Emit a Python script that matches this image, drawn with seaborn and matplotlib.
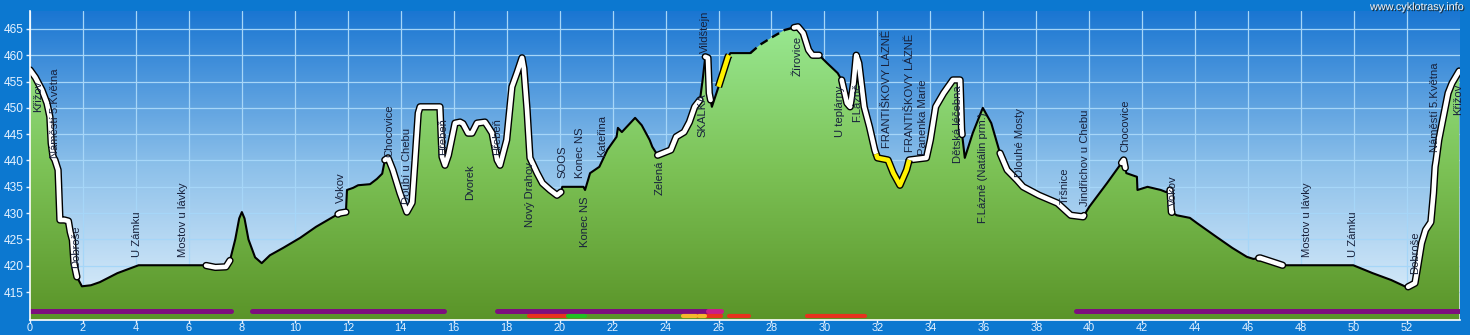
import numpy as np
import pandas as pd
import matplotlib
matplotlib.use("Agg")
import matplotlib.pyplot as plt
import seaborn as sns
from matplotlib.colors import LinearSegmentedColormap
from matplotlib.patches import PathPatch
import matplotlib.patheffects as pe

# ---------------- data ----------------
km = [0.0, 0.2, 0.45, 0.64, 0.75, 0.8, 0.87, 0.94, 1.06, 1.13, 1.3, 1.45, 1.52, 1.6, 1.66, 1.77, 1.96,
      2.3, 2.64, 3.3, 4.1, 6.6, 7.0, 7.4, 7.55, 7.75, 7.9, 8.0, 8.1, 8.25, 8.5, 8.75, 9.06, 9.56, 10.2,
      10.8, 11.45, 11.7, 11.93, 11.97, 12.2, 12.39, 12.84, 13.1, 13.3, 13.4, 13.52, 13.7, 13.97, 14.23,
      14.43, 14.54, 14.66, 14.73, 15.48, 15.56, 15.67, 15.8, 16.05, 16.24, 16.35, 16.54, 16.69, 16.88,
      17.18, 17.3, 17.45, 17.64, 17.75, 18.0, 18.2, 18.4, 18.58, 18.65, 18.77, 18.88, 19.15, 19.35,
      19.64, 19.9, 20.05, 20.1, 20.9, 20.96, 21.15, 21.5, 21.8, 22.15, 22.2, 22.35, 22.85, 23.1, 23.4,
      23.5, 23.7, 24.2, 24.4, 24.7, 24.9, 25.1, 25.3, 25.4, 25.5, 25.6, 25.65, 25.75, 26.0, 26.36,
      26.45, 27.2, 27.57, 28.05, 28.5, 28.8, 29.0, 29.2, 29.4, 29.55, 29.8, 30.1, 30.5, 30.65, 30.85,
      30.97, 31.1, 31.2, 31.3, 31.5, 31.7, 31.9, 32.0, 32.4, 32.6, 32.85, 33.1, 33.2, 33.85, 34.0,
      34.2, 34.5, 34.85, 35.12, 35.18, 35.3, 35.6, 35.98, 36.3, 36.45, 36.63, 36.9, 37.27, 37.5, 38.1,
      38.8, 39.3, 39.77, 40.0, 40.67, 41.3, 41.4, 41.8, 41.82, 42.2, 42.7, 42.9, 43.05, 43.1, 43.3,
      43.8, 44.07, 44.8, 45.4, 45.95, 46.2, 46.45, 47.3, 49.97, 50.7, 51.4, 52.0, 52.3, 52.4, 52.55,
      52.7, 52.9, 53.0, 53.06, 53.1, 53.2, 53.4, 53.55, 53.7, 53.97]
elev = [457.2, 455.8, 453.4, 450.9, 448.3, 443.3, 440.7, 440.1, 438.2, 428.7, 428.7, 428.5, 426.4,
        424.9, 420.5, 417.9, 416.1, 416.3, 416.9, 418.6, 420.1, 420.1, 419.7, 419.8, 421.0, 425.0,
        429.0, 430.2, 429.0, 425.0, 421.6, 420.5, 422.0, 423.4, 425.3, 427.4, 429.3, 430.0, 430.2,
        434.4, 434.8, 435.3, 435.5, 436.5, 437.5, 440.1, 440.5, 438.2, 433.8, 430.2, 432.0, 440.0,
        449.0, 450.2, 450.2, 440.7, 439.1, 441.0, 447.1, 447.3, 447.0, 445.2, 445.2, 447.1, 447.3,
        446.4, 445.2, 440.1, 439.1, 443.9, 454.0, 456.8, 459.5, 457.5, 449.6, 440.5, 437.6, 435.7,
        434.4, 433.4, 434.0, 435.0, 435.0, 434.4, 437.6, 438.8, 442.0, 444.5, 446.2, 445.4, 448.1,
        446.7, 443.9, 442.6, 441.0, 442.0, 444.5, 445.4, 447.3, 450.2, 451.5, 455.3, 459.7, 459.5,
        452.8, 450.2, 454.0, 459.7, 460.4, 460.4, 462.0, 463.5, 464.8, 465.2, 465.4, 464.2, 461.0,
        460.0, 460.0, 458.5, 456.6, 455.3, 450.9, 450.2, 454.7, 460.0, 458.5, 450.2, 446.4, 442.0,
        440.5, 440.1, 437.6, 435.3, 438.2, 440.1, 440.5, 443.9, 450.2, 452.8, 455.3, 455.3, 445.8,
        440.5, 445.2, 450.0, 447.1, 444.5, 441.4, 438.2, 436.3, 435.0, 433.4, 431.9, 429.6, 429.3,
        431.2, 435.7, 440.1, 437.6, 436.9, 434.4, 435.0, 434.4, 434.0, 434.4, 430.2, 429.6, 429.1,
        428.1, 425.5, 423.4, 421.7, 421.3, 421.5, 420.1, 420.1, 418.6, 417.3, 415.9, 416.7, 419.7,
        424.3, 426.8, 428.3, 433.8, 438.8, 440.1, 443.9, 449.0, 452.8, 454.7, 457.0]

white_ranges = [(0.0, 1.77), (6.65, 7.55), (11.63, 11.93), (13.4, 20.05), (23.7, 25.3), (25.5, 25.7),
                (28.85, 29.8), (30.65, 31.95), (33.2, 35.2), (36.63, 39.8), (41.22, 41.36),
                (43.05, 43.12), (46.4, 47.3), (52.04, 53.97)]
yellow_ranges = [(26.0, 26.4), (31.95, 33.2)]
dashed_ranges = [(27.2, 28.85)]

purple_bars = [(0.0, 7.6), (8.4, 15.65), (17.65, 25.6), (39.5, 53.97)]
magenta_bars = [(25.6, 26.1)]
red_bars = [(18.85, 20.3), (25.15, 25.25), (25.5, 26.1), (26.4, 27.15), (29.35, 31.55)]
green_bars = [(20.3, 20.95)]
orange_bars = [(24.65, 25.15), (25.25, 25.5)]

label_text = ["Křižov", "Náměstí 5.Května", "Dobroše", "U Zámku", "Mostov u lávky", "Vokov",
              "Chocovice", "Doubí u Chebu", "Hřebeň", "Dvorek", "Hřebeň", "Nový Drahov", "SOOS",
              "Konec NS", "Konec NS", "Kateřina", "Zelená", "SKALKA", "Vildštejn", "Žírovice",
              "U teplárny", "F.Lázně", "FRANTIŠKOVY LÁZNĚ", "FRANTIŠKOVY LÁZNĚ", "Panenka Marie",
              "Dětská léčebna", "F.Lázně (Natálin prm.)", "Dlouhé Mosty", "Tršnice",
              "Jindřichov u Chebu", "Chocovice", "Vokov", "Mostov u lávky", "U Zámku", "Dobroše",
              "Náměstí 5.Května", "Křižov"]
label_km = [0.30, 0.94, 1.74, 4.04, 5.78, 11.74, 13.56, 14.24, 15.6, 16.62, 17.64, 18.88, 20.09,
            20.77, 20.96, 21.6, 23.79, 25.38, 25.49, 28.97, 30.59, 31.23, 32.36, 33.23, 33.72, 35.05,
            35.99, 37.39, 39.09, 39.84, 41.35, 43.16, 48.23, 49.96, 52.3, 53.06, 53.93]
label_elev = [449.2, 440.5, 419.6, 421.7, 421.7, 431.9, 440.7, 431.7, 441.0, 432.5, 441.0, 427.4,
              436.7, 436.7, 423.6, 440.7, 433.4, 444.5, 460.4, 456.1, 444.5, 447.3, 442.4, 441.6,
              441.0, 439.5, 428.1, 436.9, 431.7, 431.3, 441.6, 431.3, 421.7, 421.7, 418.4, 441.6,
              448.6]

y_ticks = list(range(415, 466, 5))
x_ticks = list(range(0, 54, 2))
XMIN, XMAX = 0.0, 54.0
YMIN, YMAX = 409.7, 468.4

# ---------------- figure ----------------
sns.set_style("white")
plt.rcParams["font.family"] = ["Liberation Sans", "DejaVu Sans"]

fig = plt.figure(figsize=(14.7, 3.35), dpi=100, facecolor="#0c78d0")
ax = fig.add_axes([30 / 1470, 15 / 335, 1430 / 1470, 309 / 335])
ax.set_facecolor("none")

# background gradient (blue -> pale)
bg = LinearSegmentedColormap.from_list("bg", ["#e4f2fc", "#8cc0ea", "#1a76d2"])
ax.imshow(np.linspace(0, 1, 256).reshape(-1, 1), extent=[XMIN, XMAX, YMIN, YMAX], origin="lower",
          aspect="auto", cmap=bg, zorder=0)

# grid
for xv in x_ticks:
    ax.axvline(xv, color="#a6d6f8", lw=0.9, zorder=0.5)
for yv in y_ticks:
    ax.axhline(yv, color="#a6d6f8", lw=0.9, zorder=0.5)

# green fill with gradient
poly = ax.fill_between(km, elev, YMIN, color="none", lw=0)
clip = PathPatch(poly.get_paths()[0], transform=ax.transData, facecolor="none", edgecolor="none")
ax.add_patch(clip)
gr = LinearSegmentedColormap.from_list("gr", ["#5a9428", "#7cc256", "#9aea94"])
im = ax.imshow(np.linspace(0, 1, 256).reshape(-1, 1), extent=[XMIN, XMAX, YMIN, 467],
               origin="lower", aspect="auto", cmap=gr, zorder=1)
im.set_clip_path(clip)


def piece(a, b):
    xs = [a] + [k for k in km if a < k < b] + [b]
    ys = list(np.interp(xs, km, elev))
    return xs, ys


# base black line (broken where dashed)
rows = []
bounds = [XMIN] + [v for r in dashed_ranges for v in r] + [km[-1]]
for u in range(0, len(bounds), 2):
    xs, ys = piece(bounds[u], bounds[u + 1])
    rows += [{"km": a, "elev": b, "unit": u} for a, b in zip(xs, ys)]
df = pd.DataFrame(rows)
sns.lineplot(data=df, x="km", y="elev", units="unit", estimator=None, sort=False,
             color="black", lw=1.5, ax=ax, zorder=4, legend=False)

for a, b in dashed_ranges:
    xs, ys = piece(a, b)
    ax.plot(xs, ys, color="black", lw=1.7, ls=(0, (3.5, 2.2)), zorder=4)

stroke = [pe.Stroke(linewidth=5.3, foreground="black"), pe.Normal()]
for a, b in white_ranges:
    xs, ys = piece(a, b)
    ax.plot(xs, ys, color="white", lw=3.3, zorder=5, solid_capstyle="round",
            solid_joinstyle="round", path_effects=stroke)
for a, b in yellow_ranges:
    xs, ys = piece(a, b)
    ax.plot(xs, ys, color="#fff200", lw=3.3, zorder=5, solid_capstyle="butt",
            solid_joinstyle="round", path_effects=stroke)

# labels (drawn over the profile)
for t, xk, ye in zip(label_text, label_km, label_elev):
    ax.text(xk, ye, t, rotation=90, ha="center", va="bottom", fontsize=8.1,
            color="#17213c", zorder=5.5)

# route-type bars
for a, b in purple_bars:
    ax.plot([a, b], [411.5, 411.5], color="#7d0f7d", lw=3.6, solid_capstyle="round", zorder=6)
for a, b in magenta_bars:
    ax.plot([a, b], [411.5, 411.5], color="#c81e88", lw=3.6, solid_capstyle="round", zorder=6)
for a, b in red_bars:
    ax.plot([a, b], [410.4, 410.4], color="#e8321e", lw=3.0, solid_capstyle="round", zorder=6)
for a, b in green_bars:
    ax.plot([a, b], [410.4, 410.4], color="#22c022", lw=3.0, solid_capstyle="round", zorder=6)
for a, b in orange_bars:
    ax.plot([a, b], [410.4, 410.4], color="#f4b82c", lw=3.0, solid_capstyle="round", zorder=6)

ax.set_xlim(XMIN, XMAX)
ax.set_ylim(YMIN, YMAX)
ax.set_xticks(x_ticks)
ax.set_yticks(y_ticks)
ax.set_xlabel("")
ax.set_ylabel("")
ax.tick_params(axis="y", colors="#e6f2ff", labelsize=8.6, length=3, width=1, pad=1.5, left=True)
ax.tick_params(axis="x", colors="#e6f2ff", labelsize=7.9, length=2, width=1, pad=0.3, bottom=True)
for s in ["top", "right"]:
    ax.spines[s].set_visible(False)
for s in ["left", "bottom"]:
    ax.spines[s].set_color("white")
    ax.spines[s].set_linewidth(1.2)
    ax.spines[s].set_zorder(7)

fig.text(1465 / 1470, 1 - 2 / 335, "www.cyklotrasy.info", ha="right", va="top", fontsize=7.8,
         color="#f4f4f4",
         path_effects=[pe.withSimplePatchShadow(offset=(0.8, -0.8), shadow_rgbFace="#202020",
                                                alpha=0.9)])

fig.savefig("out.png", dpi=100, facecolor=fig.get_facecolor())
